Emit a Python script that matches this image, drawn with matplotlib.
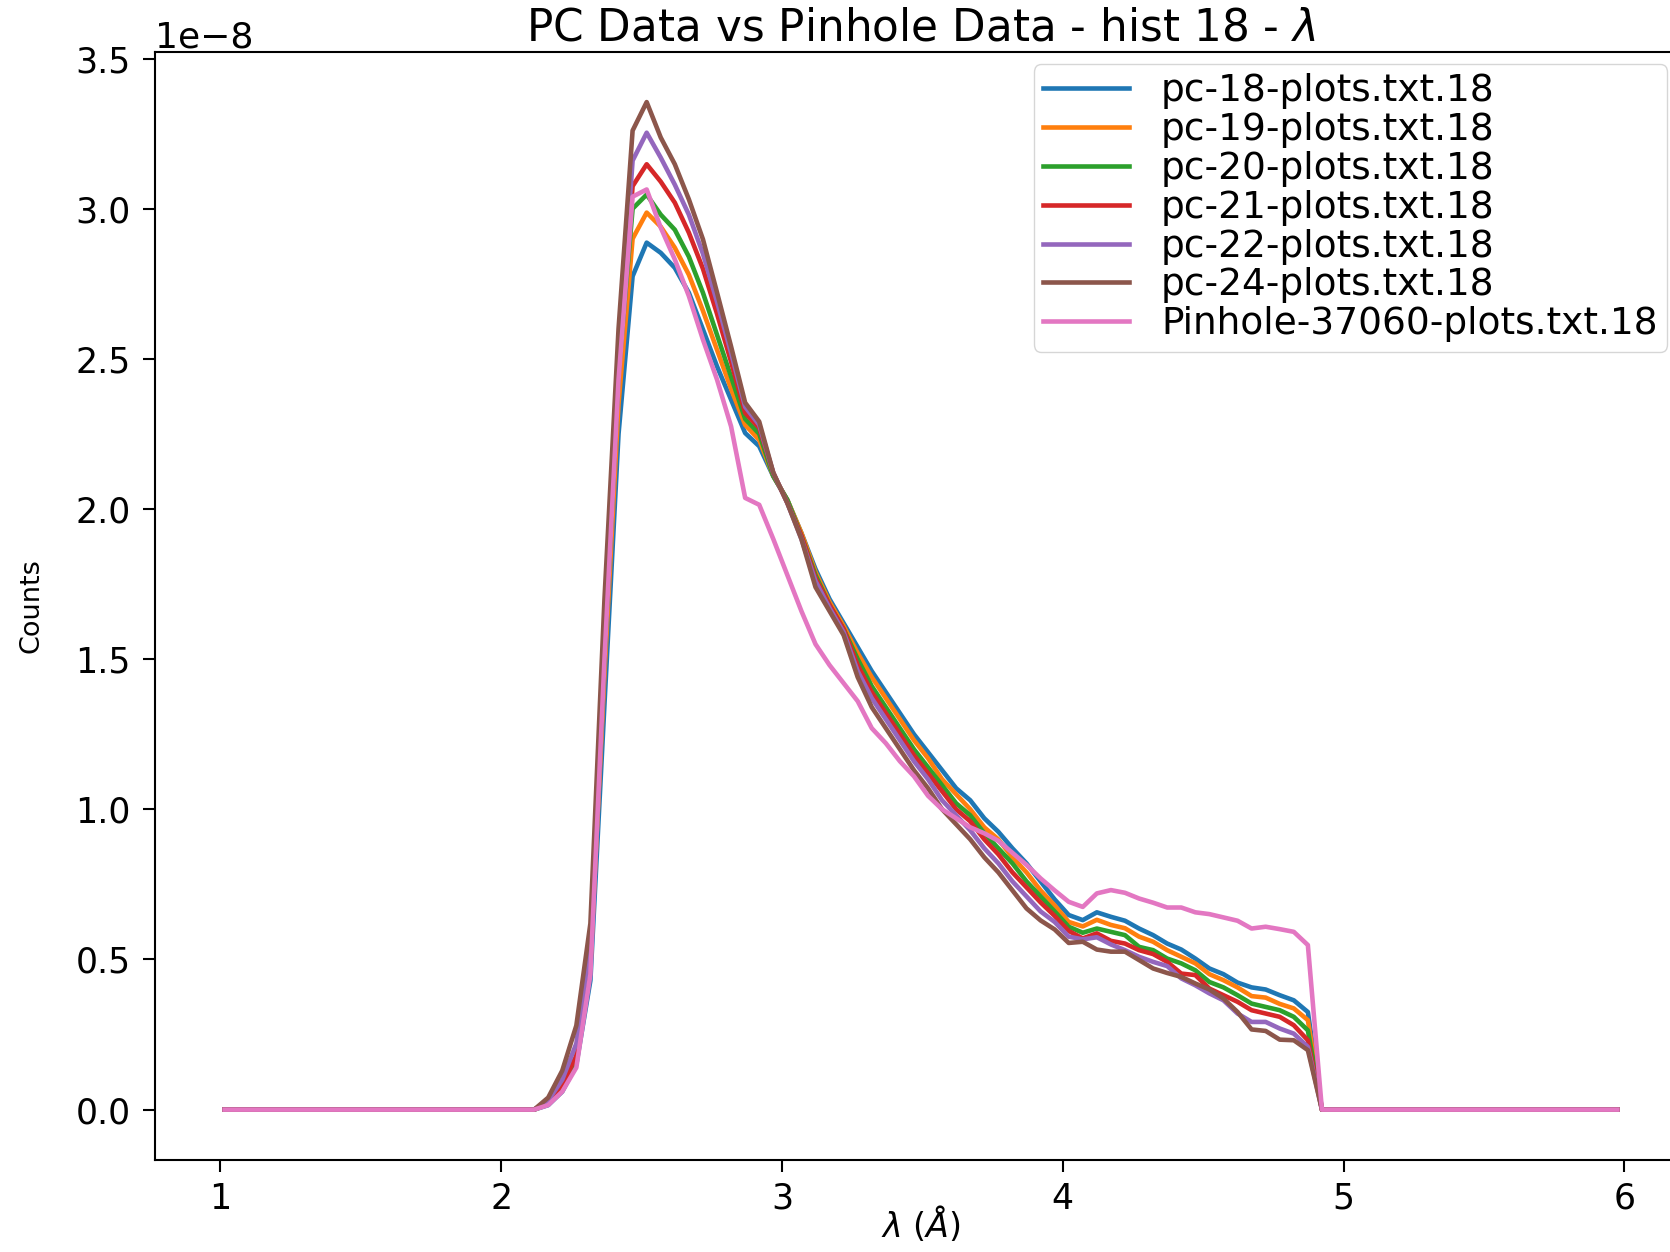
import numpy as np
import matplotlib
matplotlib.use("Agg")
import matplotlib.pyplot as plt

# wavelength grid (bin centres, Angstrom)
wavelength = np.linspace(1.015, 5.975, 100)

labels = ["pc-18-plots.txt.18", "pc-19-plots.txt.18", "pc-20-plots.txt.18",
          "pc-21-plots.txt.18", "pc-22-plots.txt.18", "pc-24-plots.txt.18",
          "Pinhole-37060-plots.txt.18"]

pc18 = [0.0] * 23 + [
    0.015, 0.06, 0.15, 0.43, 1.35, 2.25, 2.775, 2.887, 2.853, 2.803,
    2.72, 2.598, 2.475, 2.364, 2.253, 2.209, 2.109, 2.03, 1.92, 1.80,
    1.70, 1.62, 1.54, 1.46, 1.39, 1.32, 1.25, 1.19, 1.13, 1.07,
    1.03, 0.97, 0.925, 0.87, 0.82, 0.76, 0.70, 0.648, 0.631, 0.657,
    0.642, 0.629, 0.603, 0.581, 0.553, 0.533, 0.503, 0.47, 0.451, 0.423,
    0.407, 0.40, 0.381, 0.364, 0.325] + [0.0] * 22

pc19 = [0.0] * 23 + [
    0.02, 0.07, 0.16, 0.48, 1.45, 2.35, 2.90, 2.987, 2.94, 2.87,
    2.78, 2.66, 2.53, 2.40, 2.28, 2.23, 2.11, 2.03, 1.92, 1.79,
    1.69, 1.61, 1.52, 1.44, 1.37, 1.30, 1.23, 1.17, 1.10, 1.05,
    1.00, 0.94, 0.90, 0.84, 0.79, 0.73, 0.68, 0.625, 0.61, 0.632,
    0.615, 0.604, 0.576, 0.559, 0.531, 0.509, 0.487, 0.451, 0.431, 0.407,
    0.378, 0.373, 0.352, 0.337, 0.298] + [0.0] * 22

pc20 = [0.0] * 23 + [
    0.02, 0.07, 0.17, 0.50, 1.50, 2.45, 3.0, 3.047, 2.98, 2.93,
    2.84, 2.72, 2.58, 2.44, 2.30, 2.25, 2.11, 2.03, 1.91, 1.78,
    1.68, 1.60, 1.50, 1.41, 1.34, 1.27, 1.20, 1.14, 1.08, 1.02,
    0.98, 0.92, 0.87, 0.82, 0.76, 0.71, 0.66, 0.609, 0.589, 0.603,
    0.592, 0.581, 0.542, 0.531, 0.503, 0.487, 0.464, 0.425, 0.407, 0.381,
    0.353, 0.342, 0.331, 0.309, 0.264] + [0.0] * 22

pc21 = [0.0] * 23 + [
    0.025, 0.08, 0.18, 0.52, 1.55, 2.48, 3.075, 3.148, 3.09, 3.02,
    2.92, 2.80, 2.65, 2.49, 2.32, 2.27, 2.12, 2.02, 1.91, 1.77,
    1.68, 1.60, 1.48, 1.39, 1.32, 1.25, 1.18, 1.12, 1.06, 1.00,
    0.96, 0.90, 0.85, 0.79, 0.74, 0.69, 0.645, 0.595, 0.57, 0.587,
    0.562, 0.553, 0.531, 0.518, 0.492, 0.453, 0.448, 0.403, 0.381, 0.359,
    0.331, 0.32, 0.309, 0.281, 0.231] + [0.0] * 22

pc22 = [0.0] * 23 + [
    0.03, 0.10, 0.22, 0.55, 1.60, 2.50, 3.16, 3.253, 3.17, 3.08,
    2.98, 2.85, 2.69, 2.52, 2.34, 2.28, 2.12, 2.02, 1.90, 1.76,
    1.67, 1.59, 1.46, 1.37, 1.30, 1.23, 1.16, 1.10, 1.03, 0.98,
    0.93, 0.87, 0.82, 0.76, 0.71, 0.66, 0.625, 0.576, 0.567, 0.574,
    0.55, 0.531, 0.509, 0.492, 0.478, 0.437, 0.414, 0.387, 0.364, 0.32,
    0.292, 0.292, 0.27, 0.253, 0.209] + [0.0] * 22

pc24 = [0.0] * 23 + [
    0.04, 0.13, 0.28, 0.62, 1.70, 2.60, 3.26, 3.355, 3.237, 3.148,
    3.031, 2.898, 2.721, 2.541, 2.354, 2.291, 2.121, 2.02, 1.90, 1.74,
    1.66, 1.58, 1.44, 1.34, 1.27, 1.20, 1.13, 1.07, 1.00, 0.95,
    0.90, 0.84, 0.79, 0.73, 0.67, 0.63, 0.60, 0.555, 0.559, 0.533,
    0.526, 0.526, 0.498, 0.47, 0.455, 0.442, 0.42, 0.40, 0.37, 0.325,
    0.267, 0.262, 0.233, 0.231, 0.198] + [0.0] * 22

pinhole = [0.0] * 23 + [
    0.015, 0.06, 0.14, 0.45, 1.50, 2.43, 3.04, 3.064, 2.937, 2.831,
    2.709, 2.564, 2.431, 2.275, 2.037, 2.014, 1.90, 1.78, 1.66, 1.55,
    1.48, 1.42, 1.36, 1.27, 1.22, 1.16, 1.11, 1.045, 1.00, 0.97,
    0.94, 0.92, 0.895, 0.855, 0.815, 0.77, 0.73, 0.692, 0.675, 0.72,
    0.731, 0.722, 0.703, 0.689, 0.673, 0.673, 0.657, 0.651, 0.64, 0.629,
    0.603, 0.609, 0.601, 0.592, 0.548] + [0.0] * 22

series = [pc18, pc19, pc20, pc21, pc22, pc24, pinhole]
colors = ["#1f77b4", "#ff7f0e", "#2ca02c", "#d62728", "#9467bd", "#8c564b", "#e377c2"]

W, H = 1670, 1252
fig = plt.figure(figsize=(W / 100, H / 100), dpi=100)
ax = fig.add_axes([155 / W, (H - 1160) / H, (1687 - 155) / W, (1160 - 51.7) / H])

for vals, lab, col in zip(series, labels, colors):
    ax.plot(wavelength, np.array(vals) * 1e-8, color=col, lw=3.3, label=lab)

ax.set_xticks([1, 2, 3, 4, 5, 6])
ax.set_yticks(np.array([0.0, 0.5, 1.0, 1.5, 2.0, 2.5, 3.0, 3.5]) * 1e-8)

for s in ax.spines.values():
    s.set_linewidth(1.5)
ax.tick_params(axis="both", length=8.6, width=1.5, labelsize=25)
ax.tick_params(axis="y", pad=9)
ax.tick_params(axis="x", pad=7)
ax.yaxis.get_offset_text().set_fontsize(26)

ax.set_title(r"PC Data vs Pinhole Data - hist 18 - $\lambda$", fontsize=31.5, pad=8)
ax.set_xlabel(r"$\lambda$ ($\AA$)", fontsize=24, va="center")
ax.xaxis.set_label_coords(0.5, -(1224 - 1160) / (1160 - 51.7))
ax.set_ylabel("Counts", fontsize=19.5, va="center")
ax.yaxis.set_label_coords((32 - 155) / (1687 - 155), 0.5)

ax.legend(loc="upper right", bbox_to_anchor=(1667 / W, 1 - 64 / H),
          bbox_transform=fig.transFigure, borderaxespad=0,
          fontsize=27, handlelength=2.3, handletextpad=0.85,
          labelspacing=0.075, borderpad=0.25)

fig.savefig("out.png", dpi=100)
